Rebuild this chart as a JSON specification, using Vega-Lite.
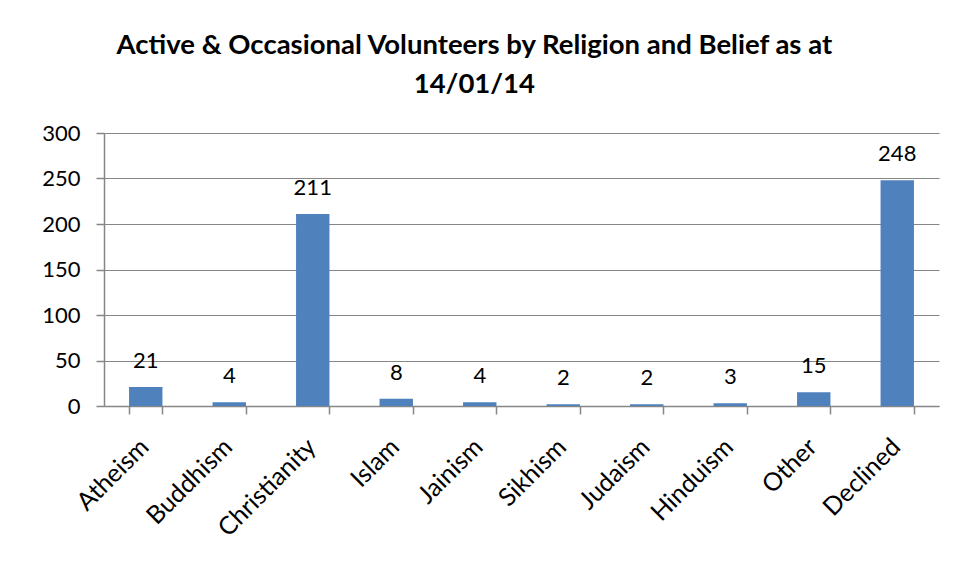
{
  "$schema": "https://vega.github.io/schema/vega-lite/v6.json",
  "width": 835,
  "height": 273,
  "padding": {"left": 41, "top": 31, "right": 15, "bottom": 5},
  "background": "white",
  "title": {
    "text": ["Active & Occasional Volunteers by Religion and Belief as at", "14/01/14"],
    "font": "Lato",
    "fontSize": 27.5,
    "fontWeight": "bold",
    "color": "black",
    "lineHeight": 39,
    "anchor": "middle",
    "frame": "bounds",
    "dx": -16,
    "offset": 24
  },
  "data": {
    "values": [
      {"religion": "Atheism", "count": 21},
      {"religion": "Buddhism", "count": 4},
      {"religion": "Christianity", "count": 211},
      {"religion": "Islam", "count": 8},
      {"religion": "Jainism", "count": 4},
      {"religion": "Sikhism", "count": 2},
      {"religion": "Judaism", "count": 2},
      {"religion": "Hinduism", "count": 3},
      {"religion": "Other", "count": 15},
      {"religion": "Declined", "count": 248}
    ]
  },
  "encoding": {
    "x": {
      "field": "religion",
      "type": "nominal",
      "sort": null,
      "scale": {"paddingInner": 0.6, "paddingOuter": 0.3},
      "axis": {
        "title": null,
        "labelAngle": -45,
        "labelAlign": "right",
        "labelBaseline": "top",
        "labelFont": "Lato",
        "labelFontSize": 25,
        "labelColor": "black",
        "labelPadding": 20,
        "labelOffset": -10,
        "tickBand": "extent",
        "tickSize": 8,
        "tickColor": "#868686",
        "tickWidth": 1.5,
        "domainColor": "#868686",
        "domainWidth": 1.5,
        "grid": false
      }
    },
    "y": {
      "field": "count",
      "type": "quantitative",
      "scale": {"domain": [0, 300]},
      "axis": {
        "title": null,
        "values": [0, 50, 100, 150, 200, 250, 300],
        "labelFont": "Lato",
        "labelFontSize": 22,
        "labelColor": "black",
        "labelPadding": 16,
        "tickSize": 8,
        "tickColor": "#868686",
        "tickWidth": 1.5,
        "domainColor": "#868686",
        "domainWidth": 1.5,
        "gridColor": "#868686",
        "gridWidth": 1.2
      }
    }
  },
  "layer": [
    {"mark": {"type": "bar", "color": "#4F81BD"}},
    {
      "mark": {"type": "text", "baseline": "bottom", "dy": -14, "font": "Lato", "fontSize": 22, "color": "black"},
      "encoding": {"text": {"field": "count", "type": "quantitative"}}
    }
  ],
  "config": {"view": {"stroke": null}}
}
